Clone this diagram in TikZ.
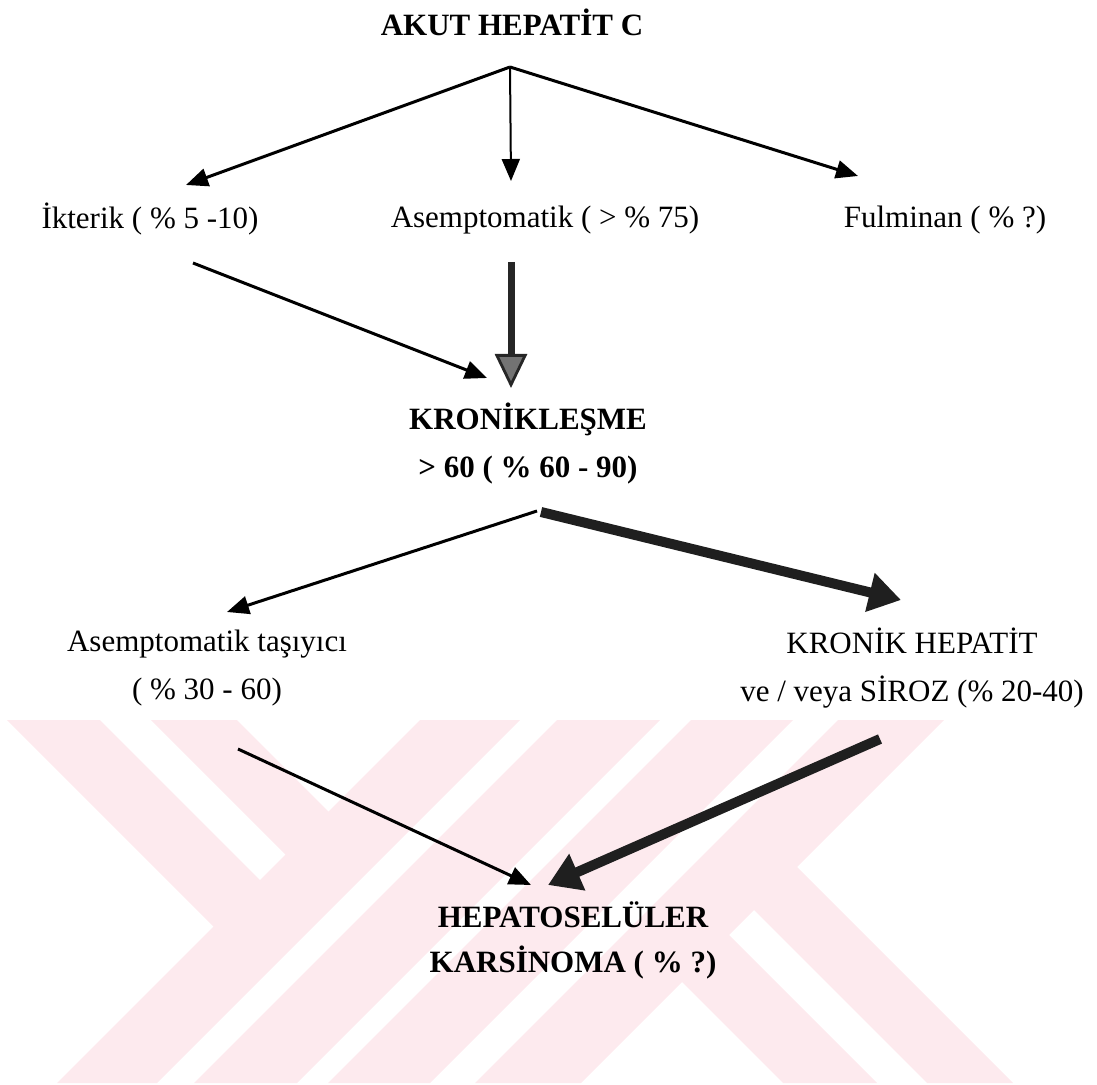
\documentclass[tikz,border=0pt]{standalone}
\usepackage{fontspec}
\setmainfont{Liberation Serif}
\usetikzlibrary{arrows.meta}
\definecolor{wmpink}{RGB}{253,234,238}

\begin{document}
\begin{tikzpicture} [x=0.5pt, y=-0.5pt,
every node/.style = {align=center, inner sep=0pt,
font=\fontsize{15.5pt}{24pt}\selectfont},
strong/.style = {font=\fontsize{15.5pt}{24pt}\selectfont\bfseries},
thin arrow/.style = {line width=1.5pt, -{Triangle[length=11pt, width=9pt]}},
mid arrow/.style = {line width=3.5pt, black!85,
-{Triangle[length=17pt, width=16pt, line width=1.4pt, fill=black!55]}},
fat arrow/.style = {line width=5pt, black!88, -{Triangle[length=16pt, width=19pt]}}]
\useasboundingbox (0,0) rectangle (1097,1085);

% watermark behind the lower part
\fill[wmpink] (420,720) -- (520,720) -- (157,1083) -- (57,1083) -- cycle;
\fill[wmpink] (557,720) -- (660,720) -- (297,1083) -- (194,1083) -- cycle;
\fill[wmpink] (691,720) -- (793,720) -- (430,1083) -- (328,1083) -- cycle;
\fill[wmpink] (838,720) -- (944,720) -- (581,1083) -- (475,1083) -- cycle;
\fill[wmpink] (7,720) -- (100,720) -- (285,905) -- (238.5,951.5) -- cycle;
\fill[wmpink] (151,720) -- (237,720) -- (353.5,836.5) -- (310.5,879.5) -- cycle;
\fill[wmpink] (770.5,840.5) -- (1013,1083) -- (927,1083) -- (727.5,883.5) -- cycle;
\fill[wmpink] (702.5,908.5) -- (877,1083) -- (783,1083) -- (655.5,955.5) -- cycle;

\node [strong] (akut) at (512,22) {AKUT HEPATİT C};
\node (ikterik) at (150,219) {İkterik ( \% 5 -10)};
\node (asemp) at (545,220) {Asemptomatik ( > \% 75)};
\node (fulminan) at (945,220) {Fulminan ( \% ?)};
\node [strong] (kronik) at (528,444) {KRONİKLEŞME\\> 60 ( \% 60 - 90)};
\node (tasiyici) at (207,668) {Asemptomatik taşıyıcı\\( \% 30 - 60)};
\node (kronhep) at (912,668) {KRONİK HEPATİT\\ve / veya SİROZ (\% 20-40)};
\node [strong] (hcc) at (573,940) {HEPATOSELÜLER\\[-1.5pt]KARSİNOMA ( \% ?)};

\coordinate (akut fork) at ([shift={(-2,45)}]akut.center);
\coordinate (kronik fork) at ([shift={(9,67)}]kronik.center);

\draw [thin arrow] (akut fork) -- ([shift={(36,-34)}]ikterik.center);
\draw [thin arrow, line width=1pt] (akut fork) -- ([shift={(-34,-39)}]asemp.center);
\draw [thin arrow] (akut fork) -- ([shift={(-87,-44)}]fulminan.center);
\draw [thin arrow] ([shift={(43,44)}]ikterik.center) -- ([shift={(-41,-66)}]kronik.center);
\draw [mid arrow] ([shift={(-34,42)}]asemp.center) -- ([shift={(-17,-56)}]kronik.center);
\draw [thin arrow] (kronik fork) -- ([shift={(20,-56)}]tasiyici.center);
\draw [fat arrow] ([shift={(13,68)}]kronik.center) -- ([shift={(-11,-68)}]kronhep.center);
\draw [thin arrow] ([shift={(31,81)}]tasiyici.center) -- ([shift={(-42,-55)}]hcc.center);
\draw [fat arrow] ([shift={(-32,71)}]kronhep.center) -- ([shift={(-25,-55)}]hcc.center);
\end{tikzpicture}
\end{document}
